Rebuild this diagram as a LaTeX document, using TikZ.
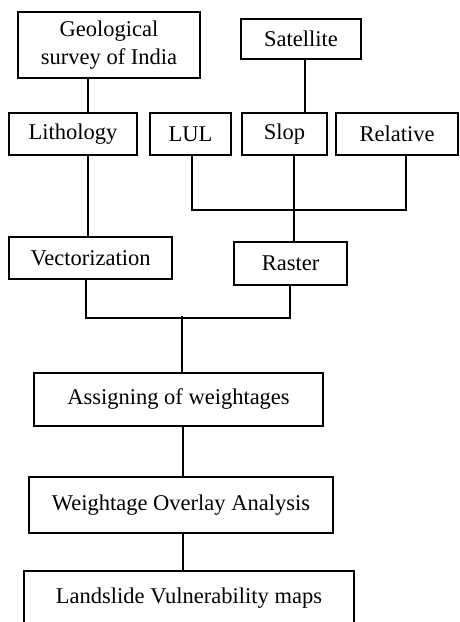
\documentclass[tikz,border=0pt]{standalone}
\usepackage{fontspec}
\setmainfont{Liberation Serif}
\usepackage{tikz}

\begin{document}
\begin{tikzpicture}[x=1pt, y=-1pt]
    \tikzset{
        box/.style={
            draw=black, line width=1.9pt, fill=white,
            inner sep=0pt, align=center,
            font=\fontsize{22.5}{27.5}\selectfont
        },
        link/.style={
            draw=black, line width=1.9pt
        },
    }
    \useasboundingbox (0,0) rectangle (459,622);

    % ==== Data sources ====
    \node[box, minimum width=182pt, minimum height=66pt] (geo) at (109,45) {Geological\\survey of India};
    \node[box, minimum width=120pt, minimum height=40pt] (sat) at (301,39) {Satellite};

    % ==== Thematic layers ====
    \node[box, minimum width=128pt, minimum height=42pt] (lith) at (73,134) {Lithology};
    \node[box, minimum width=81pt, minimum height=42pt] (lul) at (190.5,134) {LUL};
    \node[box, minimum width=85pt, minimum height=42pt] (slop) at (284.5,134) {Slop};
    \node[box, minimum width=122pt, minimum height=42pt] (rel) at (397,134) {Relative};

    % ==== Conversion ====
    \node[box, minimum width=163pt, minimum height=42pt] (vec) at (90.5,258) {Vectorization};
    \node[box, minimum width=113pt, minimum height=43pt] (ras) at (290.5,263.5) {Raster};

    % ==== Analysis ====
    \node[box, minimum width=289pt, minimum height=53pt] (asg) at (178.5,399.5) {Assigning of weightages};
    \node[box, minimum width=304pt, minimum height=56pt] (wgt) at (181,505) {Weightage Overlay Analysis};
    \node[box, minimum width=330pt, minimum height=54pt] (land) at (189,598) {Landslide Vulnerability maps};

    % ==== Connectors ====
    \draw[link] ([xshift=-21]geo.south) -- ([xshift=15]lith.north);
    \draw[link] ([xshift=4]sat.south) -- ([xshift=20.5]slop.north);
    \draw[link] ([xshift=1.5]lul.south) -- ++(0,54) -| ([xshift=9]rel.south);
    \draw[link] ([xshift=9.5]slop.south) -- ([xshift=3.5]ras.north);
    \draw[link] ([xshift=15]lith.south) -- ([xshift=-2.5]vec.north);
    \draw[link] ([xshift=-4.5]vec.south) -- ++(0,38) -| ([xshift=-0.5]ras.south);
    \draw[link] ([xshift=3.5]asg.north) -- ++(0,-56);
    \draw[link] ([xshift=4.5]asg.south) -- ([xshift=2]wgt.north);
    \draw[link] ([xshift=2]wgt.south) -- ([xshift=-6]land.north);

\end{tikzpicture}
\end{document}
